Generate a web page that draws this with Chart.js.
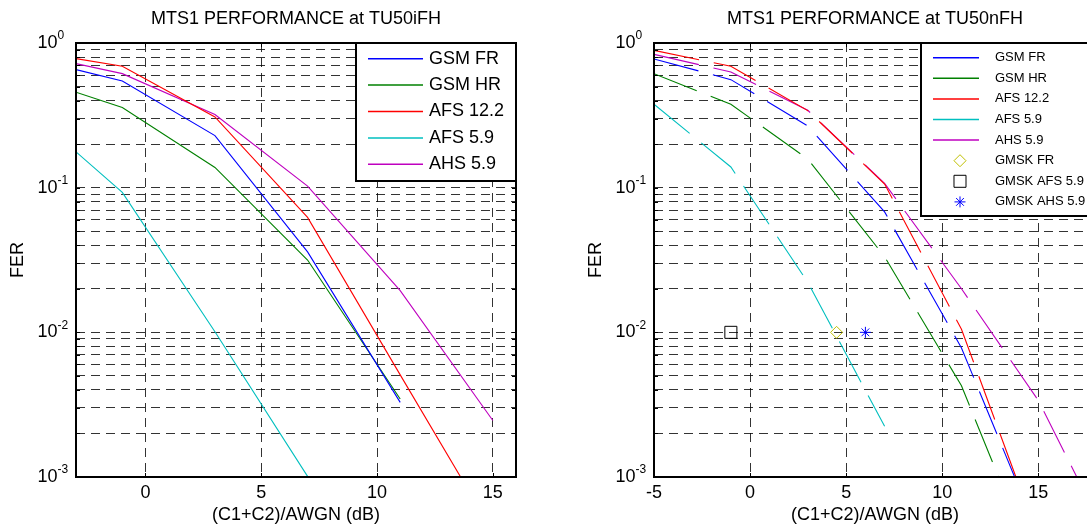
<!DOCTYPE html>
<html>
<head>
<meta charset="utf-8">
<title>MTS1 performance</title>
<script src="https://cdn.jsdelivr.net/npm/chart.js@4.4.1/dist/chart.umd.min.js"></script>
<style>
  html, body { margin: 0; padding: 0; background: #fff; overflow: hidden; width: 1087px; height: 524px; }
  canvas { position: absolute; top: 0; }
  #leftChart { left: 0; }
  #rightChart { left: 570px; }
</style>
</head>
<body>
<canvas id="leftChart" width="560" height="524"></canvas>
<canvas id="rightChart" width="565" height="524"></canvas>
<script>
// values (FER vs C/N in dB)
const seriesNames = ['GSM FR', 'GSM HR', 'AFS 12.2', 'AFS 5.9', 'AHS 5.9'];
const seriesColors = ['#0000ff', '#008000', '#ff0000', '#00bfbf', '#bf00bf'];

// left plot - TU50iFH
const xLeft = [-3, -1, 3, 7, 11, 15];
const gsmFrLeft  = [0.655, 0.547, 0.229, 0.036, 0.00328, null];
const gsmHrLeft  = [0.457, 0.358, 0.138, 0.0316, 0.00346, null];
const afs122Left = [0.78, 0.69, 0.308, 0.0623, 0.00508, 0.00042];
const afs59Left  = [0.177, 0.0927, 0.0101, 0.00101, null, null];
const ahs59Left  = [0.72, 0.614, 0.32, 0.1026, 0.0194, 0.00246];

// right plot - TU50nFH
const xRight = [-5, -1, 3, 7, 11, 15, 19];
const gsmFrRight  = [0.776, 0.558, 0.267, 0.068, 0.0078, 0.0004, null];
const gsmHrRight  = [0.614, 0.377, 0.158, 0.0333, 0.00427, 0.00021, null];
const afs122Right = [0.89, 0.69, 0.341, 0.106, 0.0105, 0.00038, null];
const afs59Right  = [0.377, 0.139, 0.0222, 0.00224, null, null, null];
const ahs59Right  = [0.835, 0.63, 0.343, 0.107, 0.02, 0.00338, 0.000296];

// single GMSK reference points (right plot)
const gmskNames  = ['GMSK FR', 'GMSK AFS 5.9', 'GMSK AHS 5.9'];
const gmskX      = [4.5, -1, 6];
const gmskY      = [0.01, 0.01, 0.01];
const gmskColors = ['#bfbf00', '#000000', '#0000ff'];
const gmskStyles = ['rectRot', 'rect', 'star'];
const gmskSizes  = [6, 8.5, 5.5];

// axes
const leftXTicks  = [0, 5, 10, 15];
const rightXTicks = [-5, 0, 5, 10, 15];
const decades     = [0.001, 0.01, 0.1, 1];
const minorSteps  = [2, 3, 4, 5, 6, 7, 8, 9];

const FONT = "'Liberation Sans', Arial, sans-serif";

// every decade plus its minor lines, like matlab's log grid
function logTicks() {
  const out = [];
  decades.forEach(d => {
    out.push(d);
    if (d < 1) minorSteps.forEach(m => out.push(+(d * m).toPrecision(3)));
  });
  return out.sort((a, b) => a - b);
}

function lineSet(label, color, xs, ys, dashed) {
  const pts = [];
  xs.forEach((x, i) => { if (ys[i] !== null) pts.push({ x: x, y: ys[i] }); });
  return {
    label: label,
    data: pts,
    borderColor: color,
    backgroundColor: color,
    borderWidth: 1.1,
    borderDash: dashed ? [46, 15] : [],
    pointRadius: 0,
    tension: 0,
    showLine: true
  };
}

function markerSet(i) {
  return {
    label: gmskNames[i],
    data: [{ x: gmskX[i], y: gmskY[i] }],
    showLine: false,
    pointStyle: gmskStyles[i],
    pointRadius: gmskSizes[i],
    pointBorderWidth: 1,
    borderColor: gmskColors[i],
    backgroundColor: 'rgba(0,0,0,0)'
  };
}

// draws box, inner ticks, 10^n labels, title, axis labels and the inset legend
const matlabAxes = {
  id: 'matlabAxes',
  afterDraw(chart, args, opts) {
    const ctx = chart.ctx;
    const a = chart.chartArea;
    const sx = chart.scales.x, sy = chart.scales.y;
    ctx.save();

    // inner tick marks
    ctx.strokeStyle = '#000';
    ctx.lineWidth = 1;
    ctx.beginPath();
    sx.ticks.forEach(t => {
      const px = Math.round(sx.getPixelForValue(t.value)) + 0.5;
      ctx.moveTo(px, a.top); ctx.lineTo(px, a.top + 4);
      ctx.moveTo(px, a.bottom); ctx.lineTo(px, a.bottom - 4);
    });
    sy.ticks.forEach(t => {
      const py = Math.round(sy.getPixelForValue(t.value)) + 0.5;
      ctx.moveTo(a.left, py); ctx.lineTo(a.left + 4, py);
      ctx.moveTo(a.right, py); ctx.lineTo(a.right - 4, py);
    });
    ctx.stroke();

    // axes box
    ctx.lineWidth = 2;
    ctx.strokeRect(Math.round(a.left), Math.round(a.top), Math.round(a.right - a.left), Math.round(a.bottom - a.top));

    // y tick labels with exponent
    ctx.fillStyle = '#000';
    decades.forEach(d => {
      const py = sy.getPixelForValue(d);
      const e = Math.round(Math.log10(d));
      ctx.font = '18px ' + FONT;
      ctx.textAlign = 'right';
      ctx.textBaseline = 'middle';
      ctx.fillText('10', a.left - 18.5, py);
      ctx.font = '12px ' + FONT;
      ctx.textAlign = 'left';
      ctx.fillText(String(e), a.left - 18.5, py - 7);
    });

    // title and axis labels
    const cx = (a.left + a.right) / 2;
    ctx.font = '18px ' + FONT;
    ctx.textAlign = 'center';
    ctx.textBaseline = 'middle';
    ctx.fillText(opts.title, cx, 18.7);
    ctx.fillText(opts.xLabel, cx, 515);
    ctx.save();
    ctx.translate(a.left - 58, (a.top + a.bottom) / 2);
    ctx.rotate(-Math.PI / 2);
    ctx.fillText(opts.yLabel, 0, 0);
    ctx.restore();

    // legend
    const lg = opts.legend;
    ctx.fillStyle = '#fff';
    ctx.fillRect(lg.x, lg.y, lg.w, lg.h);
    ctx.strokeStyle = '#000';
    ctx.lineWidth = 2;
    ctx.strokeRect(lg.x, lg.y, lg.w, lg.h);
    chart.data.datasets.forEach((ds, i) => {
      const ry = lg.row0 + i * lg.step;
      if (ds.showLine !== false) {
        ctx.strokeStyle = ds.borderColor;
        ctx.lineWidth = 1.5;
        ctx.setLineDash([]);
        ctx.beginPath();
        ctx.moveTo(lg.line0, ry);
        ctx.lineTo(lg.line1, ry);
        ctx.stroke();
      } else {
        ctx.strokeStyle = ds.borderColor;
        ctx.fillStyle = 'rgba(0,0,0,0)';
        ctx.lineWidth = 1;
        Chart.helpers.drawPoint(ctx, { pointStyle: ds.pointStyle, radius: ds.pointRadius, rotation: 0, borderWidth: 1 }, lg.markX, ry);
      }
      ctx.fillStyle = '#000';
      ctx.font = lg.font + 'px ' + FONT;
      ctx.textAlign = 'left';
      ctx.textBaseline = 'middle';
      ctx.fillText(ds.label, lg.textX, ry);
    });

    ctx.restore();
  }
};

function makeChart(canvasId, datasets, cfg) {
  const canvas = document.getElementById(canvasId);
  new Chart(canvas, {
    type: 'line',
    data: { datasets: datasets },
    plugins: [matlabAxes],
    options: {
      responsive: false,
      animation: false,
      events: [],
      layout: { padding: { top: 43, right: canvas.width - cfg.areaRight, left: 0, bottom: 0 } },
      scales: {
        x: {
          type: 'linear',
          min: cfg.xMin,
          max: cfg.xMax,
          afterBuildTicks: s => { s.ticks = cfg.xTicks.map(v => ({ value: v })); },
          afterFit: s => { s.height = 47; },
          grid: { color: 'rgba(0,0,0,0.8)', lineWidth: 1, drawTicks: false },
          border: { display: false, dash: [9, 6] },
          ticks: {
            color: '#000',
            font: { family: FONT, size: 18 },
            padding: 5,
            maxRotation: 0,
            autoSkip: false,
            callback: v => String(v)
          }
        },
        y: {
          type: 'logarithmic',
          min: 0.001,
          max: 1,
          afterBuildTicks: s => { s.ticks = logTicks().map(v => ({ value: v })); },
          afterFit: s => { s.width = cfg.areaLeft; },
          grid: { color: 'rgba(0,0,0,0.8)', lineWidth: 1, drawTicks: false },
          border: { display: false, dash: [9, 6] },
          ticks: { display: false }
        }
      },
      plugins: {
        legend: { display: false },
        tooltip: { enabled: false },
        matlabAxes: cfg.decor
      }
    }
  });
}

const leftYs  = [gsmFrLeft, gsmHrLeft, afs122Left, afs59Left, ahs59Left];
const rightYs = [gsmFrRight, gsmHrRight, afs122Right, afs59Right, ahs59Right];

makeChart('leftChart',
  seriesNames.map((n, i) => lineSet(n, seriesColors[i], xLeft, leftYs[i], false)),
  {
    xMin: -3, xMax: 16, xTicks: leftXTicks, areaLeft: 76, areaRight: 516,
    decor: {
      title: 'MTS1 PERFORMANCE at TU50iFH',
      xLabel: '(C1+C2)/AWGN (dB)',
      yLabel: 'FER',
      legend: { x: 356, y: 43, w: 160, h: 138, line0: 368, line1: 423, markX: 395, textX: 429, row0: 58.7, step: 26.4, font: 18 }
    }
  });

makeChart('rightChart',
  seriesNames.map((n, i) => lineSet(n, seriesColors[i], xRight, rightYs[i], true))
    .concat(gmskNames.map((n, i) => markerSet(i))),
  {
    xMin: -5, xMax: 18, xTicks: rightXTicks, areaLeft: 84, areaRight: 526,
    decor: {
      title: 'MTS1 PERFORMANCE at TU50nFH',
      xLabel: '(C1+C2)/AWGN (dB)',
      yLabel: 'FER',
      legend: { x: 351, y: 43, w: 175, h: 173, line0: 363, line1: 409, markX: 390, textX: 425, row0: 57.7, step: 20.6, font: 13 }
    }
  });
</script>
</body>
</html>
